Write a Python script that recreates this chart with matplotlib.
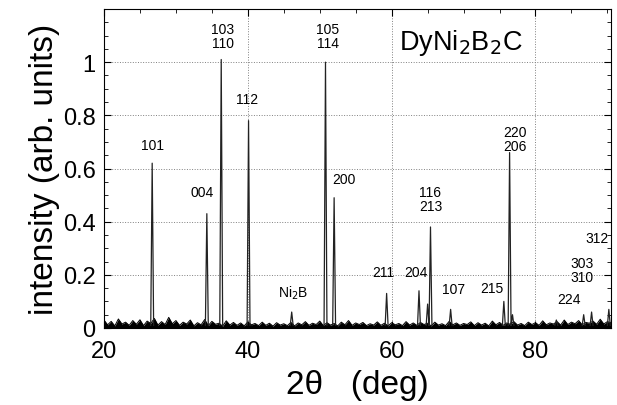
import numpy as np
import matplotlib
matplotlib.use("Agg")
import matplotlib.pyplot as plt

plt.rcParams['font.family'] = ['Liberation Sans', 'DejaVu Sans']

# Bragg peaks: 2theta (deg), normalised intensity
peak_pos = [26.7, 34.3, 36.3, 40.1, 46.1, 50.8, 52.0, 59.3, 63.8, 65.0, 65.4,
            68.2, 75.6, 76.4, 76.8, 82.9, 86.7, 87.8, 90.2]
peak_int = [0.62, 0.43, 1.01, 0.78, 0.06, 1.00, 0.49, 0.13, 0.14, 0.09, 0.38,
            0.07, 0.10, 0.66, 0.05, 0.03, 0.05, 0.06, 0.07]

# background noise, every 0.5 deg from 20 to 90.5 (estimated)
noise_start = 20.0
noise_step = 0.5
noise = [0.030, 0.012, 0.025, 0.008, 0.034, 0.015, 0.022, 0.010, 0.028, 0.014,
         0.031, 0.009, 0.026, 0.017, 0.036, 0.011, 0.024, 0.013, 0.040, 0.016,
         0.028, 0.010, 0.022, 0.015, 0.030, 0.008, 0.020, 0.012, 0.032, 0.009,
         0.025, 0.014, 0.018, 0.007, 0.027, 0.011, 0.021, 0.010, 0.019, 0.008,
         0.023, 0.012, 0.017, 0.009, 0.022, 0.010, 0.018, 0.007, 0.020, 0.011,
         0.016, 0.009, 0.021, 0.008, 0.019, 0.012, 0.024, 0.010, 0.018, 0.013,
         0.026, 0.009, 0.020, 0.011, 0.017, 0.008, 0.022, 0.012, 0.028, 0.010,
         0.019, 0.013, 0.021, 0.009, 0.016, 0.011, 0.023, 0.010, 0.018, 0.008,
         0.020, 0.012, 0.017, 0.009, 0.024, 0.011, 0.019, 0.010, 0.021, 0.013,
         0.018, 0.008, 0.022, 0.011, 0.016, 0.009, 0.025, 0.012, 0.019, 0.010,
         0.017, 0.013, 0.023, 0.009, 0.020, 0.011, 0.018, 0.008, 0.026, 0.012,
         0.021, 0.010, 0.019, 0.014, 0.024, 0.011, 0.017, 0.009, 0.022, 0.013,
         0.020, 0.010, 0.027, 0.012, 0.019, 0.015, 0.024, 0.011, 0.030, 0.013,
         0.022, 0.016, 0.028, 0.012, 0.021, 0.018, 0.026, 0.014, 0.033, 0.015,
         0.024, 0.020]

# hkl labels: text, 2theta, intensity position
labels = ["101", "004", "103\n110", "112", "105\n114", "200", "116\n213",
          "211", "204", "107", "215", "220\n206", "224", "303\n310", "312"]
label_x = [26.8, 33.6, 36.5, 39.9, 51.1, 53.4, 65.4, 58.8, 63.4, 68.6, 74.0,
           77.1, 84.7, 86.5, 88.6]
label_y = [0.69, 0.51, 1.10, 0.86, 1.10, 0.56, 0.485, 0.21, 0.21, 0.147, 0.15,
           0.71, 0.11, 0.22, 0.34]

xticks = [20, 40, 60, 80]
yticks = [0, 0.2, 0.4, 0.6, 0.8, 1.0]
ytick_labels = ["0", "0.2", "0.4", "0.6", "0.8", "1"]

fig = plt.figure(figsize=(6.17, 4.06), dpi=100)
ax = fig.add_axes([104 / 617, 1 - 329 / 406, (611 - 104) / 617, (329 - 10) / 406])

noise_x = noise_start + noise_step * np.arange(len(noise))
ax.fill_between(noise_x, 0, noise, color='black', lw=0)
ax.plot(noise_x, noise, color='black', lw=0.7)

# each peak drawn as a narrow spike
w = 0.2
px, py = [], []
for x, h in zip(peak_pos, peak_int):
    px += [x - w, x, x + w, np.nan]
    py += [0.01, h, 0.01, np.nan]
ax.plot(px, py, color='#222222', lw=0.9)

for t, x, y in zip(labels, label_x, label_y):
    ax.text(x, y, t, ha='center', va='center', fontsize=10, linespacing=1.0)

ax.text(46.3, 0.135, r"Ni$_2$B", ha='center', va='center', fontsize=10)
ax.text(69.6, 1.075, r"DyNi$_2$B$_2$C", ha='center', va='center', fontsize=19.5)

ax.set_xlim(20, 90.5)
ax.set_ylim(0, 1.2)
ax.set_xticks(xticks)
ax.set_xticks(np.arange(20, 91, 5), minor=True)
ax.set_yticks(yticks)
ax.set_yticklabels(ytick_labels)
ax.set_yticks(np.arange(0, 1.2, 0.05), minor=True)
ax.tick_params(which='both', direction='in', top=True, right=True, labelsize=17)
ax.tick_params(which='major', length=5)
ax.tick_params(which='minor', length=3)
ax.tick_params(axis='x', pad=9)
ax.tick_params(axis='y', pad=6)
ax.grid(True, which='major', color='gray', linestyle=':', linewidth=0.7)

ax.set_xlabel("2θ   (deg)", fontsize=24, labelpad=5)
ax.set_ylabel("intensity (arb. units)", fontsize=24, labelpad=2)

fig.savefig("out.png", dpi=100)
